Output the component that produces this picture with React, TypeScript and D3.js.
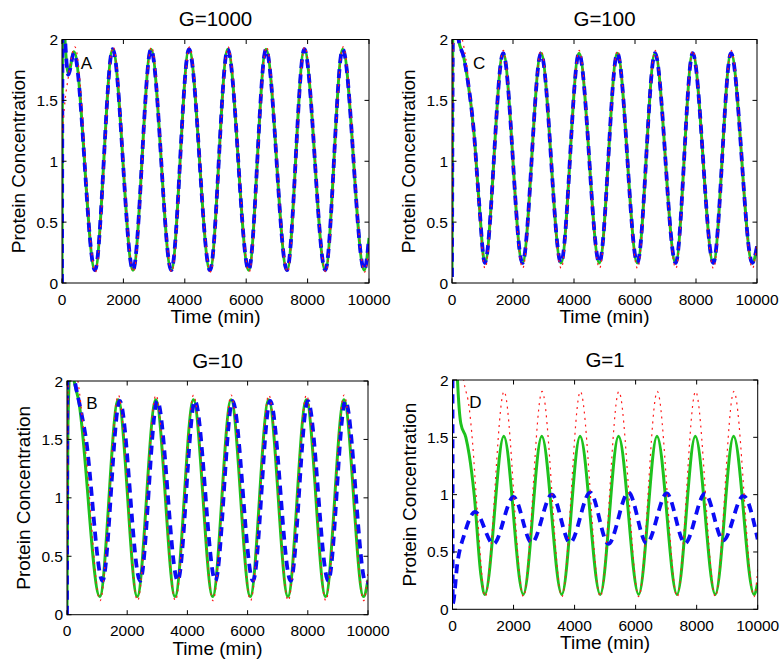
import React from "react";
import * as d3 from "d3";

type Pt = [number, number];

// ---------- shared axis data ----------
const xTicks = [0, 2000, 4000, 6000, 8000, 10000];
const yTicks = [0, 0.5, 1, 1.5, 2];
const xDomain: [number, number] = [0, 10000];
const yDomain: [number, number] = [0, 2];
const xLabel = "Time (min)";
const yLabel = "Protein Concentration";

// ---------- Panel A : G=1000 ----------
const aRed: Pt[] = [[0, 1.2], [100, 1.5], [200, 1.68], [420, 1.94], [1090, 0.09], [1665, 1.94], [2328, 0.09], [2913, 1.94], [3575, 0.09], [4151, 1.94], [4836, 0.09], [5411, 1.94], [6096, 0.09], [6659, 1.94], [7344, 0.09], [7907, 1.94], [8592, 0.09], [9157, 1.94], [9862, 0.09], [10000, 0.3]];
const aGreen: Pt[] = [[0, 0], [25, 2.4], [85, 2.05], [205, 1.72], [390, 1.9], [1075, 0.105], [1651, 1.92], [2313, 0.105], [2899, 1.92], [3560, 0.105], [4137, 1.92], [4821, 0.105], [5397, 1.92], [6081, 0.105], [6645, 1.92], [7329, 0.105], [7893, 1.92], [8577, 0.105], [9143, 1.92], [9847, 0.105], [10000, 0.37]];
const aBlue: Pt[] = [[0, 0], [25, 2.4], [80, 2.1], [205, 1.71], [390, 1.89], [1075, 0.105], [1651, 1.92], [2313, 0.105], [2899, 1.92], [3560, 0.105], [4137, 1.92], [4821, 0.105], [5397, 1.92], [6081, 0.105], [6645, 1.92], [7329, 0.105], [7893, 1.92], [8577, 0.105], [9143, 1.92], [9847, 0.105], [10000, 0.37]];

// ---------- Panel C : G=100 ----------
const cRed: Pt[] = [[0, 0.3], [60, 2.4], [300, 2.05], [450, 1.85], [700, 1.25], [880, 0.65], [1080, 0.12], [1680, 1.91], [2315, 0.12], [2921, 1.91], [3579, 0.12], [4167, 1.91], [4836, 0.12], [5424, 1.91], [6082, 0.12], [6659, 1.91], [7338, 0.12], [7894, 1.91], [8573, 0.12], [9151, 1.91], [9852, 0.12], [10000, 0.33]];
const cGreen: Pt[] = [[0, 0.05], [40, 2.4], [120, 2.3], [216, 2.0], [380, 1.86], [507, 1.68], [724, 1.22], [886, 0.67], [1075, 0.165], [1677, 1.887], [2310, 0.165], [2918, 1.887], [3574, 0.165], [4164, 1.887], [4831, 0.165], [5421, 1.887], [6077, 0.165], [6656, 1.887], [7333, 0.165], [7891, 1.887], [8568, 0.165], [9148, 1.887], [9847, 0.165], [10000, 0.3]];
const cBlue: Pt[] = [[0, 0.05], [40, 2.4], [120, 2.3], [216, 2.0], [380, 1.86], [507, 1.68], [724, 1.22], [886, 0.67], [1075, 0.165], [1677, 1.887], [2310, 0.165], [2918, 1.887], [3574, 0.165], [4164, 1.887], [4831, 0.165], [5421, 1.887], [6077, 0.165], [6656, 1.887], [7333, 0.165], [7891, 1.887], [8568, 0.165], [9148, 1.887], [9847, 0.165], [10000, 0.3]];

// ---------- Panel B : G=10 ----------
const bRed: Pt[] = [[0, 0.5], [60, 2.3], [385, 1.96], [620, 1.4], [1100, 0.12], [1705, 1.88], [2343, 0.12], [2955, 1.88], [3600, 0.12], [4205, 1.88], [4850, 0.12], [5455, 1.88], [6100, 0.12], [6705, 1.88], [7350, 0.12], [7955, 1.88], [8600, 0.12], [9205, 1.88], [9860, 0.12], [10000, 0.36]];
const bGreen: Pt[] = [[0, 0.05], [30, 1.6], [120, 2.2], [222, 2.02], [389, 1.83], [1089, 0.155], [1700, 1.84], [2333, 0.155], [2950, 1.84], [3590, 0.155], [4200, 1.84], [4840, 0.155], [5450, 1.84], [6090, 0.155], [6700, 1.84], [7340, 0.155], [7950, 1.84], [8590, 0.155], [9200, 1.84], [9850, 0.155], [10000, 0.3]];
const bBlue: Pt[] = [[0, 0], [20, 2.4], [100, 2.3], [260, 2.0], [444, 1.77], [611, 1.54], [1180, 0.29], [1750, 1.83], [2430, 0.29], [3000, 1.83], [3680, 0.29], [4250, 1.83], [4930, 0.29], [5500, 1.83], [6180, 0.29], [6750, 1.83], [7430, 0.29], [8000, 1.83], [8680, 0.29], [9250, 1.83], [9930, 0.27], [10000, 0.28]];

// ---------- Panel D : G=1 ----------
const dRed: Pt[] = [[0, 2.8], [383, 1.97], [546, 1.76], [656, 1.46], [800, 0.9], [1070, 0.11], [1690, 1.9], [2325, 0.11], [2935, 1.9], [3585, 0.11], [4190, 1.9], [4845, 0.11], [5450, 1.9], [6105, 0.11], [6710, 1.9], [7360, 0.11], [7965, 1.9], [8615, 0.11], [9220, 1.9], [9885, 0.11], [10000, 0.35]];
const dGreen: Pt[] = [[0, 3], [120, 2.3], [164, 2.0], [219, 1.75], [273, 1.62], [437, 1.5], [546, 1.35], [711, 1.0], [930, 0.3], [1060, 0.13], [1680, 1.51], [2320, 0.13], [2925, 1.51], [3580, 0.13], [4180, 1.51], [4840, 0.13], [5440, 1.51], [6100, 0.13], [6700, 1.51], [7355, 0.13], [7955, 1.51], [8610, 0.13], [9210, 1.51], [9880, 0.13], [10000, 0.23]];
const dBlue: Pt[] = [[0, 2.4], [8, 0.05], [164, 0.41], [383, 0.65], [743, 0.85], [1342, 0.57], [2000, 0.98], [2597, 0.58], [3255, 1.0], [3852, 0.58], [4510, 1.02], [5107, 0.57], [5765, 1.02], [6362, 0.575], [7020, 1.01], [7617, 0.575], [8275, 1.01], [8872, 0.6], [9530, 0.99], [10000, 0.61]];

// ---------- layout (positions only) ----------
interface Panel {
  title: string;
  letter: string;
  letterT: number;
  x0: number; x1: number; y0: number; y1: number;
  red: Pt[]; green: Pt[]; blue: Pt[];
}

const panels: Panel[] = [
  { title: "G=1000", letter: "A", letterT: 610, x0: 62, x1: 369, y0: 39.5, y1: 283, red: aRed, green: aGreen, blue: aBlue },
  { title: "G=100", letter: "C", letterT: 690, x0: 452, x1: 757, y0: 39.5, y1: 283, red: cRed, green: cGreen, blue: cBlue },
  { title: "G=10", letter: "B", letterT: 640, x0: 67, x1: 368, y0: 381, y1: 614.7, red: bRed, green: bGreen, blue: bBlue },
  { title: "G=1", letter: "D", letterT: 550, x0: 452.5, x1: 757.7, y0: 380, y1: 609.3, red: dRed, green: dGreen, blue: dBlue },
];

const FONT = "'Liberation Sans', Arial, Helvetica, sans-serif";

function PanelView({ p, idx }: { p: Panel; idx: number }) {
  const x = d3.scaleLinear().domain(xDomain).range([p.x0, p.x1]);
  const y = d3.scaleLinear().domain(yDomain).range([p.y1, p.y0]);
  const line = d3
    .line<Pt>()
    .x((d) => x(d[0]))
    .y((d) => y(d[1]))
    .curve(d3.curveMonotoneX);
  const clipId = `clip-${idx}`;
  const tl = 4.5;
  return (
    <g>
      <defs>
        <clipPath id={clipId}>
          <rect x={p.x0} y={p.y0} width={p.x1 - p.x0} height={p.y1 - p.y0} />
        </clipPath>
      </defs>
      <rect x={p.x0} y={p.y0} width={p.x1 - p.x0} height={p.y1 - p.y0} fill="#fff" />
      <g clipPath={`url(#${clipId})`}>
        <path d={line(p.green) || ""} fill="none" stroke="#1ec21e" strokeWidth={3} strokeLinejoin="round" />
        <path d={line(p.blue) || ""} fill="none" stroke="#0b0bf5" strokeWidth={3.8} strokeDasharray="9,6" />
        <path d={line(p.red) || ""} fill="none" stroke="#ff1a1a" strokeWidth={1.2} strokeDasharray="2,4.5" />
      </g>
      {/* frame */}
      <rect x={p.x0} y={p.y0} width={p.x1 - p.x0} height={p.y1 - p.y0} fill="none" stroke="#000" strokeWidth={1} />
      {/* x ticks */}
      {xTicks.map((t) => (
        <g key={`xt${t}`}>
          <line x1={x(t)} x2={x(t)} y1={p.y1} y2={p.y1 - tl} stroke="#000" strokeWidth={1} />
          <line x1={x(t)} x2={x(t)} y1={p.y0} y2={p.y0 + tl} stroke="#000" strokeWidth={1} />
          <text x={x(t)} y={p.y1 + 21.5} textAnchor="middle" fontSize={15.5} fontFamily={FONT} fill="#000">
            {t}
          </text>
        </g>
      ))}
      {/* y ticks */}
      {yTicks.map((t) => (
        <g key={`yt${t}`}>
          <line x1={p.x0} x2={p.x0 + tl} y1={y(t)} y2={y(t)} stroke="#000" strokeWidth={1} />
          <line x1={p.x1} x2={p.x1 - tl} y1={y(t)} y2={y(t)} stroke="#000" strokeWidth={1} />
          <text x={p.x0 - 4} y={y(t) + 5.5} textAnchor="end" fontSize={15.5} fontFamily={FONT} fill="#000">
            {t}
          </text>
        </g>
      ))}
      {/* title */}
      <text x={(p.x0 + p.x1) / 2} y={p.y0 - 13.5} textAnchor="middle" fontSize={20.5} fontFamily={FONT} fill="#000">
        {p.title}
      </text>
      {/* x label */}
      <text x={(p.x0 + p.x1) / 2} y={p.y1 + 40} textAnchor="middle" fontSize={19} fontFamily={FONT} fill="#000">
        {xLabel}
      </text>
      {/* y label */}
      <text
        transform={`translate(${p.x0 - 37},${(p.y0 + p.y1) / 2}) rotate(-90)`}
        textAnchor="middle"
        fontSize={19}
        fontFamily={FONT}
        fill="#000"
      >
        {yLabel}
      </text>
      {/* panel letter */}
      <text x={x(p.letterT)} y={y(1.76)} fontSize={17} fontFamily={FONT} fill="#000">
        {p.letter}
      </text>
    </g>
  );
}

export default function App() {
  return (
    <svg
      width={780}
      height={663}
      viewBox="0 0 780 663"
      style={{ position: "absolute", left: 0, top: 0, background: "#fff" }}
    >
      <rect x={0} y={0} width={780} height={663} fill="#fff" />
      {panels.map((p, i) => (
        <PanelView key={p.title} p={p} idx={i} />
      ))}
    </svg>
  );
}
